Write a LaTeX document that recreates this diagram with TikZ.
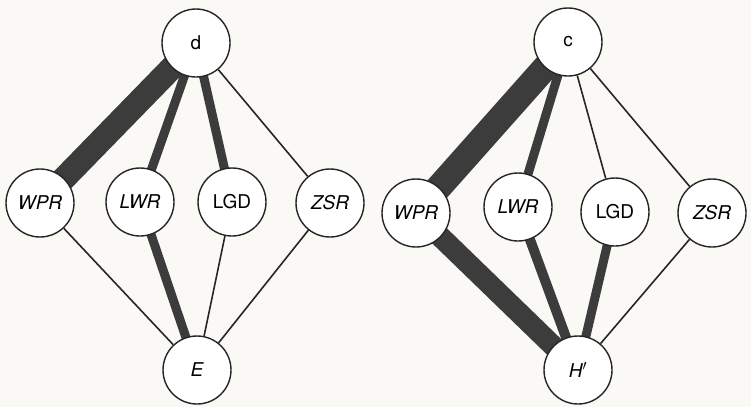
\documentclass[tikz,border=0pt]{standalone}
\usepackage{fontspec}
\setmainfont{TeX Gyre Heros}
\usetikzlibrary{backgrounds}
\definecolor{paper}{HTML}{FAF9F6}
\definecolor{ink}{HTML}{262626}
\definecolor{band}{HTML}{3C3C3C}
\begin{document}
\begin{tikzpicture}[x=1pt,y=-1pt,
  vertex/.style={circle,draw=ink,line width=1.4pt,fill=white,minimum size=68pt,inner sep=0pt,
    font=\fontsize{19}{22}\selectfont},
  thin/.style={draw=ink,line width=1.6pt},
  mid/.style={draw=band,line width=9pt},
  heavy/.style={draw=band,line width=24pt}]
\useasboundingbox (0,0) rectangle (751,407);
% left network
\node[vertex] (d)  at (196,43)  {d};
\node[vertex] (lw) at (40,203)  {\itshape WPR};
\node[vertex] (ll) at (140,202) {\itshape LWR};
\node[vertex] (lg) at (232,202) {LGD};
\node[vertex] (lz) at (330,203) {\itshape ZSR};
\node[vertex] (e)  at (197,370) {\itshape E};
% right network
\node[vertex] (c)  at (568,42)  {c};
\node[vertex] (rw) at (416,213) {\itshape WPR};
\node[vertex] (rl) at (518,207) {\itshape LWR};
\node[vertex] (rg) at (615,212) {LGD};
\node[vertex] (rz) at (712,213) {\itshape ZSR};
\node[vertex] (h)  at (578,370) {\itshape H$'$};
\begin{scope}[on background layer]
  \fill[paper] (0,0) rectangle (751,407);
  % left links (centre to centre, hidden under the filled circles)
  \draw[heavy] (d.center) -- (lw.center);
  \draw[mid] (d.center) -- (ll.center);
  \draw[mid] (d.center) -- (lg.center);
  \draw[thin] (d) -- (lz);
  \draw[thin] (lw) -- (e);
  \draw[mid] (ll.center) -- (e.center);
  \draw[thin] (lg) -- (e);
  \draw[thin] (lz) -- (e);
  % right links
  \draw[heavy,line width=26pt] (c.center) -- (rw.center);
  \draw[mid] (c.center) -- (rl.center);
  \draw[thin] (c) -- (rg);
  \draw[thin] (c) -- (rz);
  \draw[heavy,line width=21pt] (rw.center) -- (h.center);
  \draw[mid,line width=10pt] (rl.center) -- (h.center);
  \draw[mid] (rg.center) -- (h.center);
  \draw[thin] (rz) -- (h);
\end{scope}
\end{tikzpicture}
\end{document}
